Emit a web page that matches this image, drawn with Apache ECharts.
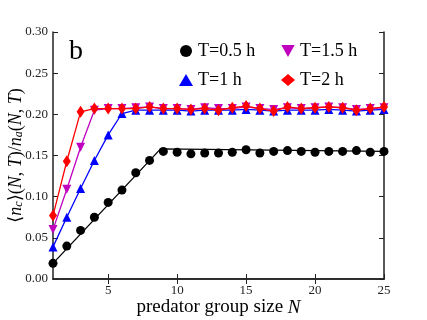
<!DOCTYPE html>
<html>
<head>
<meta charset="utf-8">
<script src="https://cdn.jsdelivr.net/npm/echarts@6/dist/echarts.min.js"></script>
<style>
  html, body { margin: 0; padding: 0; background: #fff; }
  #chart { width: 427px; height: 320px; }
</style>
</head>
<body>
<div id="chart"></div>
<script>
  // group sizes N = 1..25
  var groupSize = [1, 2, 3, 4, 5, 6, 7, 8, 9, 10, 11, 12, 13, 14, 15, 16, 17, 18, 19, 20, 21, 22, 23, 24, 25];

  // measured <n_c>/n_a, one list per hunting time T
  var t05 = [0.019, 0.040, 0.059, 0.075, 0.093, 0.108, 0.129, 0.144, 0.155, 0.154, 0.152, 0.153, 0.153, 0.154, 0.157, 0.153, 0.155, 0.156, 0.155, 0.154, 0.155, 0.155, 0.156, 0.154, 0.155];
  var t1 = [0.039, 0.075, 0.110, 0.144, 0.175, 0.201, 0.205, 0.205, 0.205, 0.205, 0.204, 0.205, 0.205, 0.205, 0.206, 0.205, 0.204, 0.205, 0.205, 0.205, 0.206, 0.205, 0.204, 0.205, 0.206];
  var t15 = [0.060, 0.109, 0.160, 0.205, 0.207, 0.207, 0.208, 0.209, 0.207, 0.207, 0.206, 0.208, 0.207, 0.207, 0.209, 0.207, 0.206, 0.208, 0.207, 0.208, 0.209, 0.208, 0.206, 0.207, 0.208];
  var t2 = [0.077, 0.143, 0.203, 0.207, 0.207, 0.207, 0.207, 0.209, 0.207, 0.207, 0.206, 0.207, 0.205, 0.208, 0.210, 0.207, 0.204, 0.209, 0.207, 0.208, 0.209, 0.208, 0.205, 0.207, 0.209];

  // straight-line fit drawn through the T=0.5 h points
  var fit05N = [1, 8.8, 25];
  var fit05 = [0.019, 0.158, 0.155];

  var xTicks = [5, 10, 15, 20, 25];

  var downTri = 'path://M0,0 L10,0 L5,9 Z';
  var serif = '"Liberation Serif", "DejaVu Serif", serif';

  function pairs(xs, ys) {
    return xs.map(function (x, i) { return [x, ys[i]]; });
  }

  function pointSeries(name, color, symbol, size, values) {
    return {
      name: name,
      type: 'line',
      data: pairs(groupSize, values),
      symbol: symbol,
      symbolSize: size,
      showAllSymbol: true,
      itemStyle: { color: color, opacity: 1 },
      lineStyle: { color: color, width: 1.3 },
      z: 3
    };
  }

  var chart = echarts.init(document.getElementById('chart'));

  var axisLine = { show: true, lineStyle: { color: '#222', width: 1.5 } };

  var legendBase = {
    orient: 'vertical',
    top: 37,
    itemGap: 11,
    itemWidth: 14,
    itemHeight: 12,
    textStyle: { fontFamily: serif, fontSize: 18, color: '#000' }
  };

  chart.setOption({
    animation: false,
    backgroundColor: '#fff',
    grid: { left: 53, right: 43, top: 32, bottom: 41, outerBoundsMode: 'none', containLabel: false },
    legend: [
      Object.assign({}, legendBase, {
        left: 174,
        data: [{ name: 'T=0.5 h', icon: 'circle' }, { name: 'T=1 h', icon: 'triangle' }]
      }),
      Object.assign({}, legendBase, {
        left: 276,
        data: [{ name: 'T=1.5 h', icon: downTri }, { name: 'T=2 h', icon: 'diamond' }]
      })
    ],
    graphic: [
      {
        type: 'text',
        left: 69,
        top: 38,
        style: { text: 'b', font: '28px ' + serif, fill: '#000' }
      }
    ],
    xAxis: [
      {
        type: 'value',
        min: 1,
        max: 25,
        position: 'bottom',
        name: '{a|predator group size }{i|N}',
        nameLocation: 'middle',
        nameGap: 19,
        nameMoveOverlap: false,
        nameTextStyle: {
          rich: {
            a: { fontFamily: serif, fontSize: 19, color: '#000' },
            i: { fontFamily: serif, fontSize: 19, fontStyle: 'italic', color: '#000' }
          }
        },
        axisLine: axisLine,
        axisTick: { show: true, inside: true, length: 5, customValues: xTicks, lineStyle: { color: '#222' } },
        axisLabel: { customValues: xTicks, fontFamily: serif, fontSize: 13, color: '#222', margin: 5 },
        splitLine: { show: false }
      },
      {
        type: 'value',
        min: 1,
        max: 25,
        position: 'top',
        axisLine: axisLine,
        axisTick: { show: true, inside: true, length: 5, customValues: [5, 10, 15, 20], lineStyle: { color: '#222' } },
        axisLabel: { show: false },
        splitLine: { show: false }
      }
    ],
    yAxis: [
      {
        type: 'value',
        min: 0,
        max: 0.3,
        interval: 0.05,
        position: 'left',
        name: '{a|\u27e8}{i|n}{s|c}{a|\u27e9(}{i|N}{a|, }{i|T}{a|)/}{i|n}{s|a}{a|(}{i|N}{a|, }{i|T}{a|)}',
        nameLocation: 'middle',
        nameRotate: 90,
        nameGap: 28,
        nameMoveOverlap: false,
        nameTextStyle: {
          rich: {
            a: { fontFamily: serif, fontSize: 18, color: '#000', lineHeight: 22, verticalAlign: 'bottom' },
            i: { fontFamily: serif, fontSize: 18, fontStyle: 'italic', color: '#000', lineHeight: 22, verticalAlign: 'bottom' },
            s: { fontFamily: serif, fontSize: 12, fontStyle: 'italic', color: '#000', lineHeight: 12, verticalAlign: 'bottom', padding: [8, 0, 0, 0] }
          }
        },
        axisLine: axisLine,
        axisTick: { show: true, inside: true, length: 5, lineStyle: { color: '#222' } },
        axisLabel: {
          fontFamily: serif, fontSize: 13, color: '#222', margin: 5,
          formatter: function (v) { return v.toFixed(2); }
        },
        splitLine: { show: false }
      },
      {
        type: 'value',
        min: 0,
        max: 0.3,
        interval: 0.05,
        position: 'right',
        axisLine: axisLine,
        axisTick: { show: true, inside: true, length: 5, lineStyle: { color: '#222' } },
        axisLabel: { show: false },
        splitLine: { show: false }
      }
    ],
    series: [
      {
        name: 'T=0.5 h',
        type: 'line',
        data: pairs(fit05N, fit05),
        symbol: 'none',
        lineStyle: { color: '#000', width: 1.3 },
        itemStyle: { color: '#000' },
        z: 2
      },
      {
        name: 'T=0.5 h',
        type: 'scatter',
        data: pairs(groupSize, t05),
        symbol: 'circle',
        symbolSize: 9,
        itemStyle: { color: '#000', opacity: 1 },
        z: 3
      },
      pointSeries('T=1 h', '#0000ff', 'triangle', 9, t1),
      pointSeries('T=1.5 h', '#bf00bf', downTri, [9, 9], t15),
      pointSeries('T=2 h', '#ff0000', 'diamond', [8, 12], t2)
    ]
  });
</script>
</body>
</html>
